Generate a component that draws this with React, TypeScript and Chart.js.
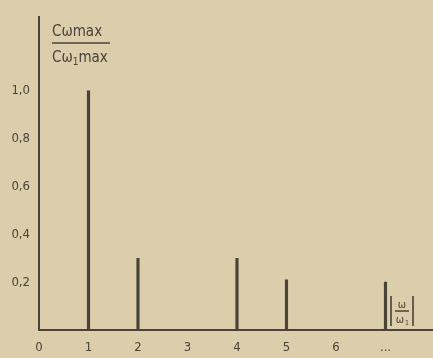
import React, { useEffect, useRef } from "react";
import { Chart, registerables } from "chart.js";

Chart.register(...registerables);

const harmonics = [1, 2, 4, 5, 7];
const ratios = [1.0, 0.3, 0.3, 0.21, 0.2];
const xTickLabels = ["0", "1", "2", "3", "4", "5", "6", "..."];
const yTickValues = [0.2, 0.4, 0.6, 0.8, 1.0];

const BG = "#dccdab";
const INK = "#48443a";
const FONT = "'DejaVu Sans Condensed', 'DejaVu Sans', sans-serif";

const titlePlugin = {
  id: "handTitles",
  afterDraw(chart: any) {
    const ctx = chart.ctx;
    const { left, bottom } = chart.chartArea;
    ctx.save();
    ctx.fillStyle = INK;
    ctx.strokeStyle = INK;
    // y-axis title (fraction)
    ctx.font = `15px ${FONT}`;
    ctx.textBaseline = "alphabetic";
    ctx.textAlign = "left";
    const tx = left + 13;
    ctx.fillText("Cωmax", tx, 36);
    ctx.lineWidth = 1.6;
    ctx.beginPath();
    ctx.moveTo(tx, 43);
    ctx.lineTo(tx + 58, 43);
    ctx.stroke();
    ctx.fillText("Cω", tx, 62);
    const w1 = ctx.measureText("Cω").width;
    ctx.font = `10px ${FONT}`;
    ctx.fillText("1", tx + w1, 65);
    const w2 = ctx.measureText("1").width;
    ctx.font = `15px ${FONT}`;
    ctx.fillText("max", tx + w1 + w2, 62);

    // x-axis title |ω/ω1|
    const bx = 391;
    const by = bottom - 34;
    ctx.lineWidth = 1.6;
    ctx.beginPath();
    ctx.moveTo(bx, by);
    ctx.lineTo(bx, by + 30);
    ctx.moveTo(bx + 22, by);
    ctx.lineTo(bx + 22, by + 30);
    ctx.moveTo(bx + 4, by + 15);
    ctx.lineTo(bx + 18, by + 15);
    ctx.stroke();
    ctx.textAlign = "center";
    ctx.font = `11px ${FONT}`;
    ctx.fillText("ω", bx + 11, by + 12);
    ctx.fillText("ω", bx + 9, by + 27);
    ctx.font = `7px ${FONT}`;
    ctx.fillText("1", bx + 16, by + 29);
    ctx.restore();
  },
};

export default function App() {
  const ref = useRef<HTMLCanvasElement | null>(null);
  useEffect(() => {
    if (!ref.current) return;
    const chart = new Chart(ref.current, {
      type: "bar",
      data: {
        datasets: [
          {
            data: harmonics.map((h, i) => ({ x: h, y: ratios[i] })),
            backgroundColor: INK,
            borderWidth: 0,
            barThickness: 2.5,
          },
        ],
      },
      options: {
        animation: false,
        responsive: false,
        layout: { padding: { top: 10, right: 0, left: 0, bottom: 0 } },
        plugins: {
          legend: { display: false },
          tooltip: { enabled: false },
        },
        scales: {
          x: {
            type: "linear",
            offset: false,
            min: 0,
            max: 7.96,
            afterFit(scale: any) {
              scale.height = 28;
            },
            afterBuildTicks(scale: any) {
              scale.ticks = xTickLabels.map((_, i) => ({ value: i }));
            },
            ticks: {
              autoSkip: false,
              maxRotation: 0,
              padding: 10,
              color: INK,
              font: { family: FONT, size: 13 },
              callback: (v: any) => xTickLabels[Math.round(Number(v))] ?? "",
            },
            grid: { display: false, drawTicks: false, offset: false },
            border: { display: true, color: INK, width: 2 },
          },
          y: {
            type: "linear",
            min: 0,
            max: 1.31,
            afterFit(scale: any) {
              scale.width = 39;
            },
            afterBuildTicks(scale: any) {
              scale.ticks = yTickValues.map((v) => ({ value: v }));
            },
            ticks: {
              autoSkip: false,
              padding: 9,
              color: INK,
              font: { family: FONT, size: 13 },
              callback: (v: any) => Number(v).toFixed(1).replace(".", ","),
            },
            grid: { display: false, drawTicks: false },
            border: { display: true, color: INK, width: 2 },
          },
        },
      },
      plugins: [titlePlugin],
    } as any);
    return () => chart.destroy();
  }, []);
  return (
    <div
      style={{
        position: "fixed",
        left: 0,
        top: 0,
        width: 433,
        height: 358,
        background: BG,
      }}
    >
      <canvas ref={ref} width={433} height={358} style={{ display: "block" }} />
    </div>
  );
}
